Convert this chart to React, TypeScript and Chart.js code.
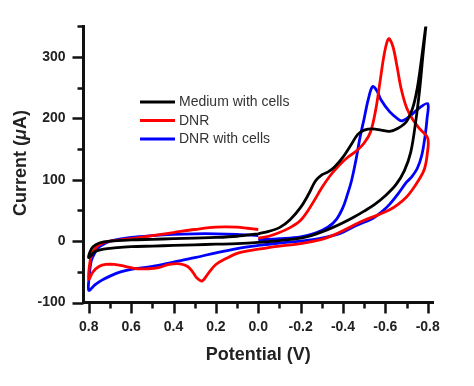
import React, { useEffect, useRef } from 'react';
import { Chart, registerables } from 'chart.js';

Chart.register(...registerables);

const FONT = "'Liberation Sans', Arial, Helvetica, sans-serif";

const seriesLabels = ['Medium with cells', 'DNR', 'DNR with cells'];
const seriesColors = ['#000000', '#ff0000', '#0000ff'];

const xAxisTitle = 'Potential (V)';
const yAxisTitleParts = ['Current (', 'μ', 'A)'];

const xMin = -0.825;
const xMax = 0.825;
const xMajorStep = 0.2;
const xMinorStep = 0.1;
const yMin = -100;
const yMax = 350;
const yMajorStep = 100;
const yMinorStep = 50;

// Medium with cells (black): 0 -> -0.8 -> +0.8 -> 0
const mediumPotential = [
  0, -0.05, -0.1, -0.15, -0.2, -0.24, -0.27, -0.3, -0.33, -0.36, -0.4, -0.44, -0.47, -0.5, -0.54, -0.58, -0.62, -0.66, -0.7, -0.73, -0.75, -0.77, -0.785, -0.8,
  -0.79, -0.777, -0.762, -0.743, -0.72, -0.69, -0.65, -0.6, -0.55, -0.5, -0.45, -0.4, -0.35, -0.3, -0.25, -0.2, -0.1, 0, 0.1, 0.2, 0.3, 0.4, 0.5, 0.6, 0.68, 0.73, 0.77, 0.8,
  0.795, 0.78, 0.75, 0.7, 0.6, 0.5, 0.4, 0.3, 0.2, 0.1, 0,
];
const mediumCurrent = [
  12, 16, 22, 35, 55, 78, 98, 108, 113, 121, 137, 158, 174, 181, 183, 181, 179, 184, 195, 218, 248, 295, 335, 375,
  345, 301, 247, 194, 145, 115, 92, 74, 60, 49, 39, 30, 22, 15, 9, 5, 1, -2, -4, -5, -6, -7, -8, -9, -11, -13, -17, -27,
  -18, -9, -3, 0, 2, 3, 4, 5, 6, 8, 12,
];

// DNR (red)
const dnrPotential = [
  0, -0.05, -0.1, -0.15, -0.2, -0.25, -0.3, -0.34, -0.38, -0.42, -0.46, -0.5, -0.53, -0.555, -0.575, -0.595, -0.615, -0.635, -0.655, -0.675, -0.7, -0.73, -0.765, -0.8,
  -0.799, -0.785, -0.762, -0.73, -0.7, -0.66, -0.62, -0.56, -0.5, -0.45, -0.4, -0.35, -0.3, -0.2, -0.1, 0, 0.05, 0.1, 0.15, 0.2, 0.235, 0.265, 0.29, 0.31, 0.335, 0.37, 0.42, 0.47, 0.52, 0.57, 0.63, 0.68, 0.72, 0.75, 0.78, 0.8,
  0.797, 0.788, 0.77, 0.74, 0.7, 0.65, 0.6, 0.5, 0.4, 0.3, 0.2, 0.1, 0.05, 0,
];
const dnrCurrent = [
  5, 8, 14, 22, 34, 58, 87, 107, 123, 136, 146, 160, 178, 215, 260, 305, 330, 318, 285, 248, 218, 198, 182, 168,
  145, 118, 102, 85, 72, 60, 51, 42, 34, 26, 17, 9, 3, -4, -8, -13, -16, -20, -28, -38, -52, -65, -60, -50, -41, -37, -38, -43, -45, -45, -41, -38, -38, -41, -50, -62,
  -40, -24, -12, -4, 0, 2, 4, 9, 14, 19, 23, 23, 21, 19,
];

// DNR with cells (blue)
const dnrCellsPotential = [
  0, -0.1, -0.2, -0.27, -0.33, -0.37, -0.4, -0.42, -0.44, -0.46, -0.48, -0.5, -0.52, -0.54, -0.56, -0.58, -0.62, -0.66, -0.68, -0.72, -0.76, -0.8,
  -0.797, -0.787, -0.772, -0.75, -0.72, -0.7, -0.66, -0.62, -0.58, -0.54, -0.46, -0.39, -0.3, -0.2, -0.1, 0, 0.1, 0.2, 0.3, 0.4, 0.5, 0.6, 0.65, 0.7, 0.74, 0.77, 0.8,
  0.797, 0.788, 0.77, 0.75, 0.72, 0.69, 0.6, 0.5, 0.4, 0.3, 0.2, 0.1, 0,
];
const dnrCellsCurrent = [
  2, 4, 7, 13, 23, 36, 55, 75, 98, 130, 168, 200, 232, 252, 245, 230, 211, 199, 196, 205, 217, 224,
  200, 170, 140, 118, 103, 96, 77, 60, 47, 37, 25, 13, 5, 0, -3, -7, -12, -19, -27, -34, -41, -46, -50, -57, -64, -71, -80,
  -55, -32, -18, -9, -3, 1, 6, 9, 11, 12, 12, 11, 9,
];

const seriesPotentials = [mediumPotential, dnrPotential, dnrCellsPotential];
const seriesCurrents = [mediumCurrent, dnrCurrent, dnrCellsCurrent];

const decorPlugin = {
  id: 'cvDecor',
  afterDraw(chart: any) {
    const { ctx, chartArea, scales } = chart;
    const xs = scales.x;
    const ys = scales.y;
    ctx.save();
    // tick marks (major + minor), outward
    ctx.strokeStyle = '#111';
    ctx.lineWidth = 2.5;
    ctx.lineCap = 'butt';
    const nX = Math.round((0.8 - -0.8) / xMinorStep);
    for (let i = 0; i <= nX; i++) {
      const v = -0.8 + i * xMinorStep;
      const px = Math.round(xs.getPixelForValue(v)) + 0.5;
      const major = i % Math.round(xMajorStep / xMinorStep) === 0;
      const len = major ? 10 : 5;
      ctx.beginPath();
      ctx.moveTo(px, chartArea.bottom);
      ctx.lineTo(px, chartArea.bottom + len + 1);
      ctx.stroke();
    }
    for (let v = yMin; v <= yMax; v += yMinorStep) {
      const py = Math.round(ys.getPixelForValue(v)) + 0.5;
      const major = v % yMajorStep === 0;
      const len = major ? 10 : 5;
      ctx.beginPath();
      ctx.moveTo(chartArea.left - len - 1, py);
      ctx.lineTo(chartArea.left, py);
      ctx.stroke();
    }

    // legend
    const legendX = 140;
    const legendY = 102;
    const rowH = 18.5;
    chart.data.datasets.forEach((ds: any, i: number) => {
      const y = legendY + i * rowH;
      ctx.strokeStyle = ds.borderColor;
      ctx.lineWidth = 3;
      ctx.beginPath();
      ctx.moveTo(legendX, y);
      ctx.lineTo(legendX + 35, y);
      ctx.stroke();
      ctx.fillStyle = '#333';
      ctx.font = `14px ${FONT}`;
      ctx.textBaseline = 'middle';
      ctx.textAlign = 'left';
      ctx.fillText(ds.label, legendX + 39, y + 0.5);
    });

    // x axis title
    ctx.fillStyle = '#222';
    ctx.font = `bold 18px ${FONT}`;
    ctx.textAlign = 'center';
    ctx.textBaseline = 'middle';
    ctx.fillText(xAxisTitle, (chartArea.left + chartArea.right) / 2, 355);

    // y axis title (with italic mu)
    ctx.save();
    ctx.translate(21, 163);
    ctx.rotate(-Math.PI / 2);
    ctx.textAlign = 'left';
    ctx.textBaseline = 'middle';
    const fonts = [`bold 18px ${FONT}`, `italic bold 18px ${FONT}`, `bold 18px ${FONT}`];
    let total = 0;
    const widths = yAxisTitleParts.map((t, i) => {
      ctx.font = fonts[i];
      const w = ctx.measureText(t).width;
      total += w;
      return w;
    });
    let cx = -total / 2;
    yAxisTitleParts.forEach((t, i) => {
      ctx.font = fonts[i];
      ctx.fillText(t, cx, 0);
      cx += widths[i];
    });
    ctx.restore();

    ctx.restore();
  },
};

export default function App() {
  const ref = useRef<HTMLCanvasElement | null>(null);
  useEffect(() => {
    if (!ref.current) return;
    const datasets = seriesLabels.map((label, s) => ({
      label,
      data: seriesPotentials[s].map((v, i) => ({ x: v, y: seriesCurrents[s][i] })),
      borderColor: seriesColors[s],
      backgroundColor: seriesColors[s],
      borderWidth: 2.8,
      pointRadius: 0,
      showLine: true,
      fill: false,
      tension: 0.35,
    }));
    const chart = new Chart(ref.current, {
      type: 'scatter',
      data: { datasets },
      options: {
        animation: false,
        responsive: false,
        maintainAspectRatio: false,
        devicePixelRatio: 1,
        events: [],
        layout: { padding: { top: 23, right: 41, left: 0, bottom: 0 } },
        plugins: { legend: { display: false }, tooltip: { enabled: false } },
        scales: {
          x: {
            type: 'linear',
            reverse: true,
            min: xMin,
            max: xMax,
            afterFit: (s: any) => { s.height = 83.5; },
            border: { display: true, width: 3, color: '#111' },
            grid: { display: false, drawTicks: false },
            ticks: {
              stepSize: xMajorStep,
              includeBounds: false,
              autoSkip: false,
              maxRotation: 0,
              padding: 16,
              color: '#222',
              font: { family: FONT, size: 14, weight: 'bold' },
              callback: (v: any) => (Math.abs(Number(v)) < 1e-9 ? '0.0' : Number(v).toFixed(1)),
            },
          },
          y: {
            type: 'linear',
            min: yMin,
            max: yMax,
            afterFit: (s: any) => { s.width = 83.5; },
            border: { display: true, width: 3, color: '#111' },
            grid: { display: false, drawTicks: false },
            ticks: {
              stepSize: yMajorStep,
              includeBounds: false,
              autoSkip: false,
              padding: 18,
              color: '#222',
              font: { family: FONT, size: 14, weight: 'bold' },
            },
          },
        },
      },
      plugins: [decorPlugin],
    } as any);
    return () => chart.destroy();
  }, []);
  return (
    <div style={{ position: 'fixed', left: 0, top: 0, width: 474, height: 386, background: '#fff' }}>
      <canvas ref={ref} width={474} height={386} />
    </div>
  );
}
